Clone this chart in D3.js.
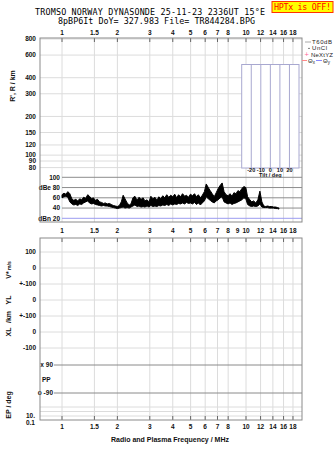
<!DOCTYPE html>
<html>
<head>
<meta charset="utf-8">
<script src="https://cdn.jsdelivr.net/npm/d3@7"></script>
<style>
	body{ margin:0; background:#fff; }
	text{ font-family:"Liberation Sans", Arial, sans-serif; font-size:6.5px; font-weight:bold; fill:#111; }
	text.mono{ font-family:"DejaVu Sans Mono", monospace; font-size:8.4px; font-weight:normal; fill:#000; }
	text.leg{ font-size:6px; font-weight:normal; fill:#222; }
	.grid{ stroke:#dcdcdc; stroke-width:1; }
	.frame{ stroke:#8a8a8a; fill:none; }
</style>
</head>
<body>
<div id="chart"></div>
<script>

// DATA
var topFreqTicks = [1, 1.5, 2, 3, 4, 5, 6, 7, 8, 10, 12, 14, 16, 18];
var midFreqTicks = [1, 1.5, 2, 3, 4, 5, 6, 7, 8, 9, 10, 12, 14, 16, 18];
var heightTicks = [800, 600, 400, 300, 200, 150, 120, 100, 90, 80];
var dbTicks = [100, 80, 60, 40, 20];
var dbTickLabels = ["100", "dBe 80", "60", "40", "dBn 20"];
var rowLabels = ["100", "0", "+-100", "0", "+-100", "0", "-100"];
var tiltTicks = [-20, -10, 0, 10, 20];

// amplitude trace vs frequency (MHz): noisy band from ampLo to ampHi (dB)
var ampFreq = [1.00, 1.025, 1.05, 1.076, 1.103, 1.131, 1.159, 1.188, 1.218, 1.248,
	1.28, 1.31, 1.345, 1.38, 1.41, 1.45, 1.48, 1.52, 1.56, 1.60,
	1.64, 1.68, 1.72, 1.76, 1.81, 1.85, 1.90, 1.95, 2.00, 2.05,
	2.10, 2.15, 2.20, 2.26, 2.32, 2.37, 2.43, 2.49, 2.56, 2.62,
	2.69, 2.76, 2.82, 2.90, 2.97, 3.04, 3.12, 3.20, 3.28, 3.36,
	3.44, 3.53, 3.62, 3.71, 3.80, 3.90, 4.00, 4.10, 4.20, 4.30,
	4.41, 4.52, 4.64, 4.75, 4.87, 4.99, 5.12, 5.25, 5.38, 5.51,
	5.65, 5.79, 5.94, 6.08, 6.24, 6.39, 6.55, 6.72, 6.89, 7.06,
	7.23, 7.42, 7.60, 7.79, 7.99, 8.19, 8.39, 8.60, 8.82, 9.04,
	9.26, 9.50, 9.73, 9.98, 10.2, 10.5, 10.75, 11.0, 11.3, 11.6,
	11.9, 12.2, 12.5, 12.8, 13.1, 13.4, 13.8, 14.1, 14.5, 14.8,
	15.1];
var ampHi = [66, 69, 67, 72, 68, 58, 55, 57, 54, 58,
	56, 61, 59, 66, 63, 58, 60, 55, 57, 52,
	51, 49, 50, 48, 49, 47, 45, 44, 43, 45,
	52, 65, 58, 50, 46, 48, 60, 63, 55, 61,
	57, 60, 54, 56, 52, 63, 58, 61, 55, 62,
	58, 64, 60, 66, 61, 65, 62, 67, 60, 66,
	62, 68, 63, 65, 61, 67, 64, 68, 62, 66,
	60, 65, 72, 87, 80, 74, 68, 62, 70, 78,
	84, 89, 72, 66, 64, 68, 63, 70, 68, 74,
	72, 78, 82, 80, 62, 56, 52, 54, 50, 56,
	73, 52, 44, 43, 44, 43, 43, 42, 42, 41,
	40];
var ampLo = [60, 62, 63, 61, 52, 48, 46, 47, 45, 48,
	47, 50, 52, 54, 50, 48, 49, 47, 46, 45,
	44, 45, 44, 44, 43, 42, 41, 40, 39, 40,
	41, 42, 40, 41, 40, 42, 44, 46, 43, 44,
	42, 43, 42, 44, 42, 45, 43, 44, 43, 45,
	44, 46, 45, 47, 45, 48, 46, 48, 47, 49,
	48, 50, 48, 51, 49, 50, 48, 51, 47, 50,
	46, 50, 54, 62, 58, 55, 52, 50, 54, 56,
	60, 62, 52, 50, 48, 50, 47, 49, 50, 52,
	54, 56, 60, 58, 47, 44, 43, 44, 43, 44,
	48, 42, 41, 41, 41, 40, 40, 40, 39, 39,
	38];

/////////////////////////

var W = 335, H = 451;
var left = 40, right = 302;

var svg = d3.select("#chart").append("svg")
	.attr("width", W)
	.attr("height", H);

// scales
var x = d3.scaleLog().domain([1, 10]).range([62, 246]);
var yH = d3.scaleLog().domain([80, 800]).range([167.6, 39]);
var yDb = d3.scaleLinear().domain([20, 100]).range([218.3, 177.3]);
var yRow = d3.scalePoint().domain(d3.range(rowLabels.length)).range([252, 348]);
var xTilt = d3.scaleLinear().domain([-30, 30]).range([241.7, 299]);

// Title
svg.append("text").attr("class", "mono")
	.attr("x", 35).attr("y", 15)
	.attr("textLength", 230).attr("lengthAdjust", "spacing")
	.text("TROMSO NORWAY   DYNASONDE 25-11-23 2336UT 15°E");
svg.append("text").attr("class", "mono")
	.attr("x", 58).attr("y", 24)
	.attr("textLength", 197).attr("lengthAdjust", "spacing")
	.text("8pBP6It DoY= 327.983 File= TR844284.BPG");

// HPTx box
svg.append("rect")
	.attr("x", 272).attr("y", 1.5).attr("width", 61).attr("height", 11)
	.style("fill", "#ffff00").style("stroke", "#ff3300");
svg.append("text").attr("class", "mono")
	.attr("x", 274).attr("y", 10)
	.attr("textLength", 57).attr("lengthAdjust", "spacing")
	.style("fill", "#ff0000")
	.text("HPTx is OFF!");

// ---- TOP PANEL (heights + amplitude strip) ----
var topG = svg.append("g");

// vertical grid
topG.selectAll(".vg").data(topFreqTicks).enter().append("line")
	.attr("class", "grid")
	.attr("x1", function(d){ return x(d); }).attr("x2", function(d){ return x(d); })
	.attr("y1", 38).attr("y2", 222);

// height grid + labels
topG.selectAll(".hg").data(heightTicks).enter().append("line")
	.attr("class", "grid")
	.attr("x1", left).attr("x2", right)
	.attr("y1", function(d){ return yH(d); }).attr("y2", function(d){ return yH(d); });
topG.selectAll(".hl").data(heightTicks).enter().append("text")
	.attr("x", 36).attr("y", function(d){ return yH(d); })
	.attr("dy", "0.35em")
	.style("text-anchor", "end")
	.text(function(d){ return d; });

// top frequency axis
topG.selectAll(".tt").data(topFreqTicks).enter().append("line")
	.attr("x1", function(d){ return x(d); }).attr("x2", function(d){ return x(d); })
	.attr("y1", 38).attr("y2", 42)
	.style("stroke", "#666");
topG.selectAll(".tl").data(topFreqTicks).enter().append("text")
	.attr("x", function(d){ return x(d); }).attr("y", 35)
	.style("text-anchor", "middle")
	.text(function(d){ return d; });

// tilt inset
var tilt = topG.append("g");
tilt.append("rect")
	.attr("x", xTilt(-30)).attr("y", 64.5)
	.attr("width", xTilt(30) - xTilt(-30)).attr("height", 168 - 64.5)
	.style("fill", "#fff").style("stroke", "#a8a8d0");
tilt.selectAll("line").data(tiltTicks).enter().append("line")
	.attr("x1", function(d){ return xTilt(d); }).attr("x2", function(d){ return xTilt(d); })
	.attr("y1", 64.5).attr("y2", 168)
	.style("stroke", "#a8a8d0");
tilt.selectAll(".tk").data(tiltTicks).enter().append("text")
	.attr("x", function(d){ return xTilt(d); }).attr("y", 172)
	.style("text-anchor", "middle").style("font-size", "5.5px")
	.text(function(d){ return d; });
tilt.append("text")
	.attr("x", xTilt(0)).attr("y", 177)
	.style("text-anchor", "middle").style("font-size", "5.5px")
	.text("Tilt / deg");

// amplitude strip lines
topG.selectAll(".dg").data(dbTicks).enter().append("line")
	.attr("x1", 62).attr("x2", right)
	.attr("y1", function(d){ return yDb(d); }).attr("y2", function(d){ return yDb(d); })
	.style("stroke", function(d){ return d == 20 ? "#9c9cf0" : "#8c8c8c"; });
topG.selectAll(".dl").data(dbTicks).enter().append("text")
	.attr("x", 60).attr("y", function(d){ return yDb(d); })
	.attr("dy", "0.35em")
	.style("text-anchor", "end")
	.text(function(d, i){ return dbTickLabels[i]; });

// amplitude band
var ampData = ampFreq.map(function(f, i){ return {f: f, lo: ampLo[i], hi: ampHi[i]}; });
topG.append("path")
	.datum(ampData)
	.attr("d", d3.area()
		.x(function(d){ return x(d.f); })
		.y0(function(d){ return yDb(d.lo); })
		.y1(function(d){ return yDb(d.hi); }))
	.style("fill", "#000").style("stroke", "#000").style("stroke-width", 1)
	.style("stroke-linejoin", "bevel");

// frame
topG.append("rect").attr("class", "frame")
	.attr("x", left).attr("y", 38).attr("width", right - left).attr("height", 222 - 38);

// axis title
svg.append("text")
	.attr("transform", "translate(15,86) rotate(-90)")
	.style("text-anchor", "middle").style("font-size", "7px")
	.text("R', R / km");

// legend
var lg = svg.append("g");
lg.append("line").attr("x1", 305).attr("x2", 311).attr("y1", 42).attr("y2", 42).style("stroke", "#aaa");
lg.append("text").attr("class", "leg").attr("x", 312).attr("y", 44).attr("textLength", 20).text("T60dB");
lg.append("circle").attr("cx", 309).attr("cy", 48.3).attr("r", 0.6).style("fill", "#000");
lg.append("text").attr("class", "leg").attr("x", 312).attr("y", 50.3).attr("textLength", 15).text("UnCl");
lg.append("text").attr("class", "leg").attr("x", 304.5).attr("y", 57).style("fill", "#ff6699").style("font-size", "7.5px").text("+");
lg.append("text").attr("class", "leg").attr("x", 311).attr("y", 56.5).attr("textLength", 22).text("NeXtYZ");
lg.append("line").attr("x1", 302).attr("x2", 307).attr("y1", 60.5).attr("y2", 60.5).style("stroke", "#ff8888");
var tx = lg.append("text").attr("class", "leg").attr("x", 308).attr("y", 62.5);
tx.append("tspan").text("Θ");
tx.append("tspan").attr("dy", 1.2).style("font-size", "4.5px").text("x");
lg.append("line").attr("x1", 316).attr("x2", 322).attr("y1", 60.5).attr("y2", 60.5).style("stroke", "#8888ff");
var ty = lg.append("text").attr("class", "leg").attr("x", 323).attr("y", 62.5);
ty.append("tspan").text("Θ");
ty.append("tspan").attr("dy", 1.2).style("font-size", "4.5px").text("y");

// mid frequency labels
svg.selectAll(".ml").data(midFreqTicks).enter().append("text")
	.attr("x", function(d){ return x(d); }).attr("y", 233)
	.style("text-anchor", "middle")
	.text(function(d){ return d; });

// ---- BOTTOM PANEL ----
var bot = svg.append("g");
var bTop = 238, bBot = 420;

bot.selectAll(".vg").data(topFreqTicks).enter().append("line")
	.attr("class", "grid")
	.attr("x1", function(d){ return x(d); }).attr("x2", function(d){ return x(d); })
	.attr("y1", bTop).attr("y2", bBot);

// row grid + labels
bot.selectAll(".rg").data(rowLabels).enter().append("line")
	.attr("class", "grid")
	.attr("x1", left).attr("x2", right)
	.attr("y1", function(d, i){ return yRow(i); }).attr("y2", function(d, i){ return yRow(i); });
bot.selectAll(".rl").data(rowLabels).enter().append("text")
	.attr("x", 36).attr("y", function(d, i){ return yRow(i); })
	.attr("dy", "0.35em")
	.style("text-anchor", "end")
	.text(function(d){ return d; });

// EP grid
var epLines = [407, 411.5, 416];
bot.selectAll(".eg").data(epLines).enter().append("line")
	.attr("class", "grid")
	.attr("x1", left).attr("x2", right)
	.attr("y1", function(d){ return d; }).attr("y2", function(d){ return d; });
bot.append("text").attr("x", 35).attr("y", 416).attr("dy", "0.35em").style("text-anchor", "end").text("10.");
bot.append("text").attr("x", 35).attr("y", 423).attr("dy", "0.35em").style("text-anchor", "end").text("0.1");

// PP lines
var ppLines = [{y: 365, label: "x 90"}, {y: 393, label: "o -90"}];
bot.selectAll(".pp").data(ppLines).enter().append("line")
	.attr("x1", 54).attr("x2", right)
	.attr("y1", function(d){ return d.y; }).attr("y2", function(d){ return d.y; })
	.style("stroke", "#8a8a8a");
bot.selectAll(".ppl").data(ppLines).enter().append("text")
	.attr("x", 53).attr("y", function(d){ return d.y; })
	.attr("dy", "0.35em")
	.style("text-anchor", "end")
	.text(function(d){ return d.label; });
bot.append("text").attr("x", 42).attr("y", 382).text("PP");

// ticks top and bottom
bot.selectAll(".t1").data(topFreqTicks).enter().append("line")
	.attr("x1", function(d){ return x(d); }).attr("x2", function(d){ return x(d); })
	.attr("y1", bTop).attr("y2", bTop + 4)
	.style("stroke", "#666");
bot.selectAll(".t2").data(topFreqTicks).enter().append("line")
	.attr("x1", function(d){ return x(d); }).attr("x2", function(d){ return x(d); })
	.attr("y1", bBot).attr("y2", bBot - 4)
	.style("stroke", "#666");
bot.selectAll(".bl").data(topFreqTicks).enter().append("text")
	.attr("x", function(d){ return x(d); }).attr("y", 428.5)
	.style("text-anchor", "middle")
	.text(function(d){ return d; });

bot.append("rect").attr("class", "frame")
	.attr("x", left).attr("y", bTop).attr("width", right - left).attr("height", bBot - bTop);

// rotated side labels
var side = [
	{y: 300, t: "YL"},
	{y: 317, t: "/km"},
	{y: 332, t: "XL"},
	{y: 405, t: "EP / deg"}
];
svg.selectAll(".sl").data(side).enter().append("text")
	.attr("transform", function(d){ return "translate(11," + d.y + ") rotate(-90)"; })
	.style("text-anchor", "middle").style("font-size", "7px")
	.text(function(d){ return d.t; });
var vs = svg.append("text")
	.attr("transform", "translate(11,270) rotate(-90)")
	.style("text-anchor", "middle").style("font-size", "7px");
vs.append("tspan").text("V*");
vs.append("tspan").style("font-size", "5px").text(" m/s");

svg.append("text")
	.attr("x", 111).attr("y", 441.5)
	.attr("textLength", 118).attr("lengthAdjust", "spacingAndGlyphs")
	.style("font-size", "7px")
	.text("Radio and Plasma Frequency / MHz");

</script>
</body>
</html>
